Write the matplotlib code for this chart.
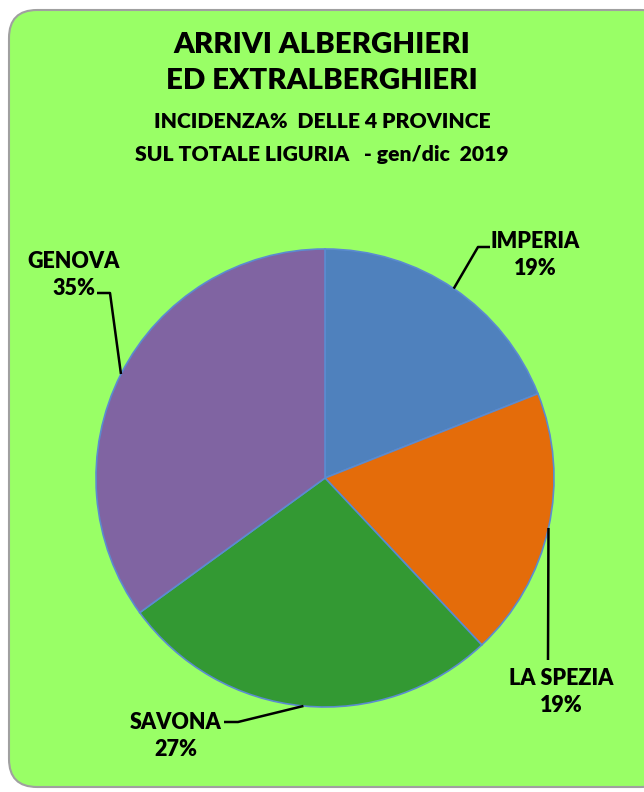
import numpy as np
import matplotlib
matplotlib.use("Agg")
import matplotlib.pyplot as plt
from matplotlib.patches import FancyBboxPatch

province = ["IMPERIA", "LA SPEZIA", "SAVONA", "GENOVA"]
quote = [19, 19, 27, 35]
colori = ["#4F81BD", "#E46C0A", "#339933", "#8064A2"]

plt.rcParams["font.family"] = ["Lato", "DejaVu Sans"]
plt.rcParams["font.weight"] = "heavy"

W, H = 644, 792
fig = plt.figure(figsize=(W / 100, H / 100), dpi=100)
fig.patch.set_facecolor("white")
ax = fig.add_axes([0, 0, 1, 1])

# sfondo verde con angoli arrotondati
box = FancyBboxPatch((9, 5), 660, 777, boxstyle="round,pad=0,rounding_size=28",
                     facecolor="#99FF66", edgecolor="#A0A0A0", linewidth=1.5)
ax.add_patch(box)

# titolo
ax.text(322, H - 45, "ARRIVI ALBERGHIERI", ha="center", va="center", fontsize=21.2)
ax.text(322, H - 81, "ED EXTRALBERGHIERI", ha="center", va="center", fontsize=21.2)
ax.text(322, H - 121, "INCIDENZA%  DELLE 4 PROVINCE", ha="center", va="center", fontsize=15.2)
ax.text(322, H - 155, "SUL TOTALE LIGURIA   - gen/dic  2019", ha="center", va="center", fontsize=15.2)

cx, cy, r = 325, H - 478, 229
wedges, _ = ax.pie(quote, colors=colori, startangle=90, counterclock=False,
                   center=(cx, cy), radius=r, frame=True,
                   wedgeprops=dict(edgecolor="#5B8BD0", linewidth=1.2))
ax.set_xlim(0, W)
ax.set_ylim(0, H)
ax.set_aspect("equal")
ax.axis("off")

# posizioni etichette (pixel, y dall'alto): gomito, fine linea, testo
layout = {
    "IMPERIA": ((478, 247), (490, 247), (535, 255)),
    "LA SPEZIA": ((548, 660), (548, 660), (561, 692)),
    "SAVONA": ((238, 722), (224, 722), (176, 736)),
    "GENOVA": ((110, 293), (97, 293), (74, 275)),
}

for w, nome, q in zip(wedges, province, quote):
    mid = np.deg2rad((w.theta1 + w.theta2) / 2)
    ex, ey = cx + r * np.cos(mid), cy + r * np.sin(mid)
    (gx, gy), (fx, fy), (tx, ty) = layout[nome]
    ax.plot([ex, gx, fx], [ey, H - gy, H - fy], color="black", linewidth=1.8,
            solid_capstyle="butt")
    ax.text(tx, H - ty, f"{nome}\n{q}%", ha="center", va="center",
            fontsize=15.5, linespacing=1.38)

fig.savefig("out.png", dpi=100, facecolor=fig.get_facecolor())
